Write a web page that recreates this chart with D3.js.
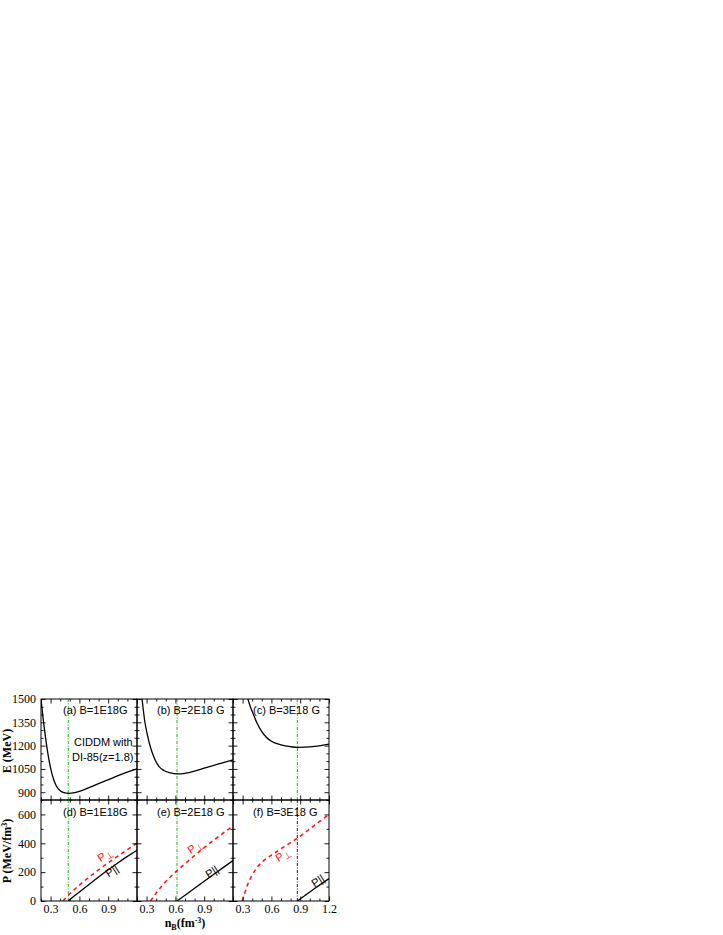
<!DOCTYPE html>
<html><head><meta charset="utf-8">
<script src="https://cdn.jsdelivr.net/npm/d3@7"></script>
<style>body{margin:0;background:#fff}</style>
</head><body>
<script>
// ---------- DATA ----------
const titlesTop = ["(a) B=1E18G", "(b) B=2E18 G", "(c) B=3E18 G"];
const titlesBot = ["(d) B=1E18G", "(e) B=2E18 G", "(f) B=3E18 G"];
const nStable = [0.484, 0.617, 0.87];
const xTickLabels = [0.3, 0.6, 0.9, 1.2];
const eTicks = [900, 1050, 1200, 1350, 1500];
const pTicks = [0, 200, 400, 600];

// energy per baryon E (MeV) vs n_B
const E_a = [[0.2,1500],[0.22,1385],[0.24,1285],[0.27,1155],[0.30,1055],[0.33,985],[0.36,940],[0.40,910],[0.44,897],[0.484,893],[0.55,897],[0.65,917],[0.75,942],[0.85,968],[0.95,993],[1.05,1018],[1.2,1050]];
const E_b = [[0.245,1540],[0.26,1460],[0.28,1360],[0.31,1265],[0.34,1190],[0.38,1120],[0.43,1065],[0.48,1040],[0.55,1024],[0.617,1018],[0.70,1022],[0.80,1036],[0.90,1055],[1.0,1073],[1.1,1091],[1.2,1108]];
const E_c = [[0.345,1525],[0.36,1490],[0.38,1452],[0.41,1405],[0.45,1345],[0.50,1290],[0.55,1252],[0.60,1228],[0.70,1205],[0.80,1193],[0.87,1189],[0.95,1190],[1.05,1195],[1.2,1210]];

// parallel pressure P|| (MeV/fm^3)
const Ppar_d = [[0.484,0],[0.52,20],[0.6,62],[0.7,114],[0.8,166],[0.9,216],[1.0,264],[1.1,309],[1.2,352]];
const Ppar_e = [[0.617,0],[0.7,40],[0.8,88],[0.9,137],[1.0,185],[1.1,233],[1.2,280]];
const Ppar_f = [[0.87,0],[0.95,38],[1.05,86],[1.2,155]];
// perpendicular pressure P_perp (MeV/fm^3)
const Pperp_d = [[0.43,0],[0.45,15],[0.5,50],[0.6,110],[0.7,165],[0.8,216],[0.9,265],[1.0,311],[1.1,356],[1.2,400]];
const Pperp_e = [[0.34,0],[0.37,28],[0.4,55],[0.45,97],[0.5,135],[0.6,200],[0.7,258],[0.8,315],[0.9,370],[1.0,422],[1.1,472],[1.2,520]];
const Pperp_f = [[0.298,0],[0.32,50],[0.35,110],[0.40,180],[0.45,232],[0.5,268],[0.6,318],[0.7,362],[0.8,405],[0.9,450],[1.0,500],[1.1,550],[1.2,600]];

const Ecurves = [E_a, E_b, E_c];
const Ppar = [Ppar_d, Ppar_e, Ppar_f];
const Pperp = [Pperp_d, Pperp_e, Pperp_f];

// ---------- LAYOUT ----------
const X0 = 41, PW = 96, Y0 = 699, YM = 800, Y1 = 901;
const svg = d3.select("body").append("svg").attr("width", 723).attr("height", 935)
  .style("font-family", "'Liberation Serif', 'Times New Roman', serif");

const yE = d3.scaleLinear().domain([850, 1500]).range([YM, Y0]);
const yP = d3.scaleLinear().domain([0, 700]).range([Y1, YM]);
const xs = [0,1,2].map(i => d3.scaleLinear().domain([0.2, 1.2]).range([X0 + i*PW, X0 + (i+1)*PW]));

const defs = svg.append("defs");
[0,1,2].forEach(i => {
  defs.append("clipPath").attr("id", "ct"+i).append("rect")
    .attr("x", X0+i*PW).attr("y", Y0).attr("width", PW).attr("height", YM-Y0);
  defs.append("clipPath").attr("id", "cb"+i).append("rect")
    .attr("x", X0+i*PW).attr("y", YM).attr("width", PW).attr("height", Y1-YM);
});

const green = "#22b022";
const red = "#ff1010";

function ticksFor(g, scale, orient, pos, majors, minors) {
  const mk = (vals, len) => {
    let ax;
    if (orient === "left") ax = d3.axisRight(scale);
    else if (orient === "right") ax = d3.axisLeft(scale);
    else if (orient === "top") ax = d3.axisBottom(scale);
    else ax = d3.axisTop(scale);
    ax.tickValues(vals).tickSize(len).tickFormat("");
    const gg = g.append("g");
    if (orient === "left" || orient === "right") gg.attr("transform", `translate(${pos},0)`);
    else gg.attr("transform", `translate(0,${pos})`);
    gg.call(ax);
    gg.select(".domain").remove();
    gg.selectAll("line").attr("stroke", "#000").attr("stroke-width", 0.9);
  };
  mk(majors, 4.5);
  mk(minors, 2.5);
}

const xMaj = [0.3, 0.6, 0.9, 1.2];
const xMin = d3.range(0.2, 1.21, 0.1).map(v => +v.toFixed(2)).filter(v => !xMaj.includes(v));
const eMin = d3.range(850, 1501, 50).filter(v => !eTicks.includes(v));
const pMin = d3.range(100, 700, 200);

for (let i = 0; i < 3; i++) {
  const x = xs[i];
  const x0 = X0 + i*PW, x1 = x0 + PW;
  // --- top panel ---
  const gt = svg.append("g");
  gt.append("line").attr("x1", x(nStable[i])).attr("x2", x(nStable[i]))
    .attr("y1", Y0).attr("y2", YM).attr("stroke", green).attr("stroke-width", 1)
    .attr("stroke-dasharray", "3,1.5,1,1.5");
  const lineE = d3.line().x(d => x(d[0])).y(d => yE(d[1])).curve(d3.curveMonotoneX);
  gt.append("path").attr("d", lineE(Ecurves[i])).attr("fill", "none").attr("stroke", "#000")
    .attr("stroke-width", 1.3).attr("clip-path", `url(#ct${i})`);
  ticksFor(gt, yE, "left", x0, eTicks, eMin);
  ticksFor(gt, yE, "right", x1, eTicks, eMin);
  ticksFor(gt, x, "top", Y0, xMaj, xMin);
  ticksFor(gt, x, "bottom", YM, xMaj, xMin);
  gt.append("rect").attr("x", x0).attr("y", Y0).attr("width", PW).attr("height", YM-Y0)
    .attr("fill", "none").attr("stroke", "#000").attr("stroke-width", 1);
  gt.append("text").attr("x", x0 + (i===0 ? 22 : 20)).attr("y", 714)
    .style("font-family", "'Liberation Sans', Arial, sans-serif").style("font-size", "11px")
    .text(titlesTop[i]);

  // --- bottom panel ---
  const gb = svg.append("g");
  gb.append("line").attr("x1", x(nStable[i])).attr("x2", x(nStable[i]))
    .attr("y1", YM).attr("y2", Y1).attr("stroke", i === 2 ? "#222" : green).attr("stroke-width", 1)
    .attr("stroke-dasharray", "3,1.5,1,1.5");
  const lineP = d3.line().x(d => x(d[0])).y(d => yP(d[1])).curve(d3.curveMonotoneX);
  gb.append("path").attr("d", lineP(Pperp[i])).attr("fill", "none").attr("stroke", red)
    .attr("stroke-width", 1.5).attr("stroke-dasharray", "4,3.5").attr("clip-path", `url(#cb${i})`);
  gb.append("path").attr("d", lineP(Ppar[i])).attr("fill", "none").attr("stroke", "#000")
    .attr("stroke-width", 1.3).attr("clip-path", `url(#cb${i})`);
  ticksFor(gb, yP, "left", x0, pTicks, pMin);
  ticksFor(gb, yP, "right", x1, pTicks, pMin);
  ticksFor(gb, x, "top", YM, xMaj, xMin);
  ticksFor(gb, x, "bottom", Y1, xMaj, xMin);
  gb.append("rect").attr("x", x0).attr("y", YM).attr("width", PW).attr("height", Y1-YM)
    .attr("fill", "none").attr("stroke", "#000").attr("stroke-width", 1);
  gb.append("text").attr("x", x0 + (i===0 ? 22 : 20)).attr("y", 816)
    .style("font-family", "'Liberation Sans', Arial, sans-serif").style("font-size", "11px")
    .text(titlesBot[i]);

  // x tick labels
  const labs = i === 2 ? xTickLabels : xTickLabels.slice(0, 3);
  const ax = d3.axisBottom(x).tickValues(labs).tickSize(0).tickPadding(3)
    .tickFormat(d3.format(".1f"));
  const ga = svg.append("g").attr("transform", `translate(0,${Y1})`).call(ax);
  ga.select(".domain").remove();
  ga.selectAll("text").style("font-size", "12px").style("font-family", "'Liberation Serif', serif");
}

// y tick labels
const axE = d3.axisLeft(yE).tickValues(eTicks).tickSize(0).tickPadding(5).tickFormat(d3.format("d"));
const gE = svg.append("g").attr("transform", `translate(${X0},0)`).call(axE);
gE.select(".domain").remove();
gE.selectAll("text").style("font-size", "12px").style("font-family", "'Liberation Serif', serif");
const axP = d3.axisLeft(yP).tickValues(pTicks).tickSize(0).tickPadding(5).tickFormat(d3.format("d"));
const gP = svg.append("g").attr("transform", `translate(${X0},0)`).call(axP);
gP.select(".domain").remove();
gP.selectAll("text").style("font-size", "12px").style("font-family", "'Liberation Serif', serif");

// annotation
const ann = svg.append("g").style("font-family", "'Liberation Sans', Arial, sans-serif").style("font-size", "11px");
ann.append("text").attr("x", 74).attr("y", 746).text("CIDDM with");
ann.append("text").attr("x", 72).attr("y", 761).text("DI-85(z=1.8)");

// curve labels
function perpLabel(xp, yp, ang) {
  const t = svg.append("text").attr("transform", `translate(${xp},${yp}) rotate(${ang})`)
    .attr("fill", red).style("font-family", "'Liberation Sans', Arial, sans-serif").style("font-size", "11px")
    .attr("text-anchor", "middle");
  t.append("tspan").text("P");
  t.append("tspan").attr("dy", 2).style("font-size", "9px").text("⊥");
}
function parLabel(xp, yp, ang) {
  svg.append("text").attr("transform", `translate(${xp},${yp}) rotate(${ang})`)
    .attr("fill", "#000").style("font-family", "'Liberation Sans', Arial, sans-serif").style("font-size", "11px")
    .attr("text-anchor", "middle").text("P||");
}
perpLabel(107, 858, -33);
parLabel(114, 874, -33);
perpLabel(197, 850, -33);
parLabel(214, 875, -33);
perpLabel(285, 858, -33);
parLabel(320, 884, -33);

// axis titles
const bold = {"font-family": "'Liberation Serif', 'Times New Roman', serif", "font-weight": "bold", "font-size": "12px"};
const tE = svg.append("text").attr("transform", "translate(11,751) rotate(-90)").attr("text-anchor", "middle").text("E (MeV)");
Object.entries(bold).forEach(([k,v]) => tE.style(k, v));
const tP = svg.append("text").attr("transform", "translate(11,851) rotate(-90)").attr("text-anchor", "middle");
Object.entries(bold).forEach(([k,v]) => tP.style(k, v));
tP.append("tspan").text("P (MeV/fm");
tP.append("tspan").attr("dy", -4).style("font-size", "8px").text("3");
tP.append("tspan").attr("dy", 4).text(")");
const tX = svg.append("text").attr("x", 185).attr("y", 927).attr("text-anchor", "middle");
Object.entries(bold).forEach(([k,v]) => tX.style(k, v));
tX.append("tspan").text("n");
tX.append("tspan").attr("dy", 3).style("font-size", "8px").text("B");
tX.append("tspan").attr("dy", -3).text("(fm");
tX.append("tspan").attr("dy", -4).style("font-size", "8px").text("-3");
tX.append("tspan").attr("dy", 4).text(")");
</script>
</body></html>
